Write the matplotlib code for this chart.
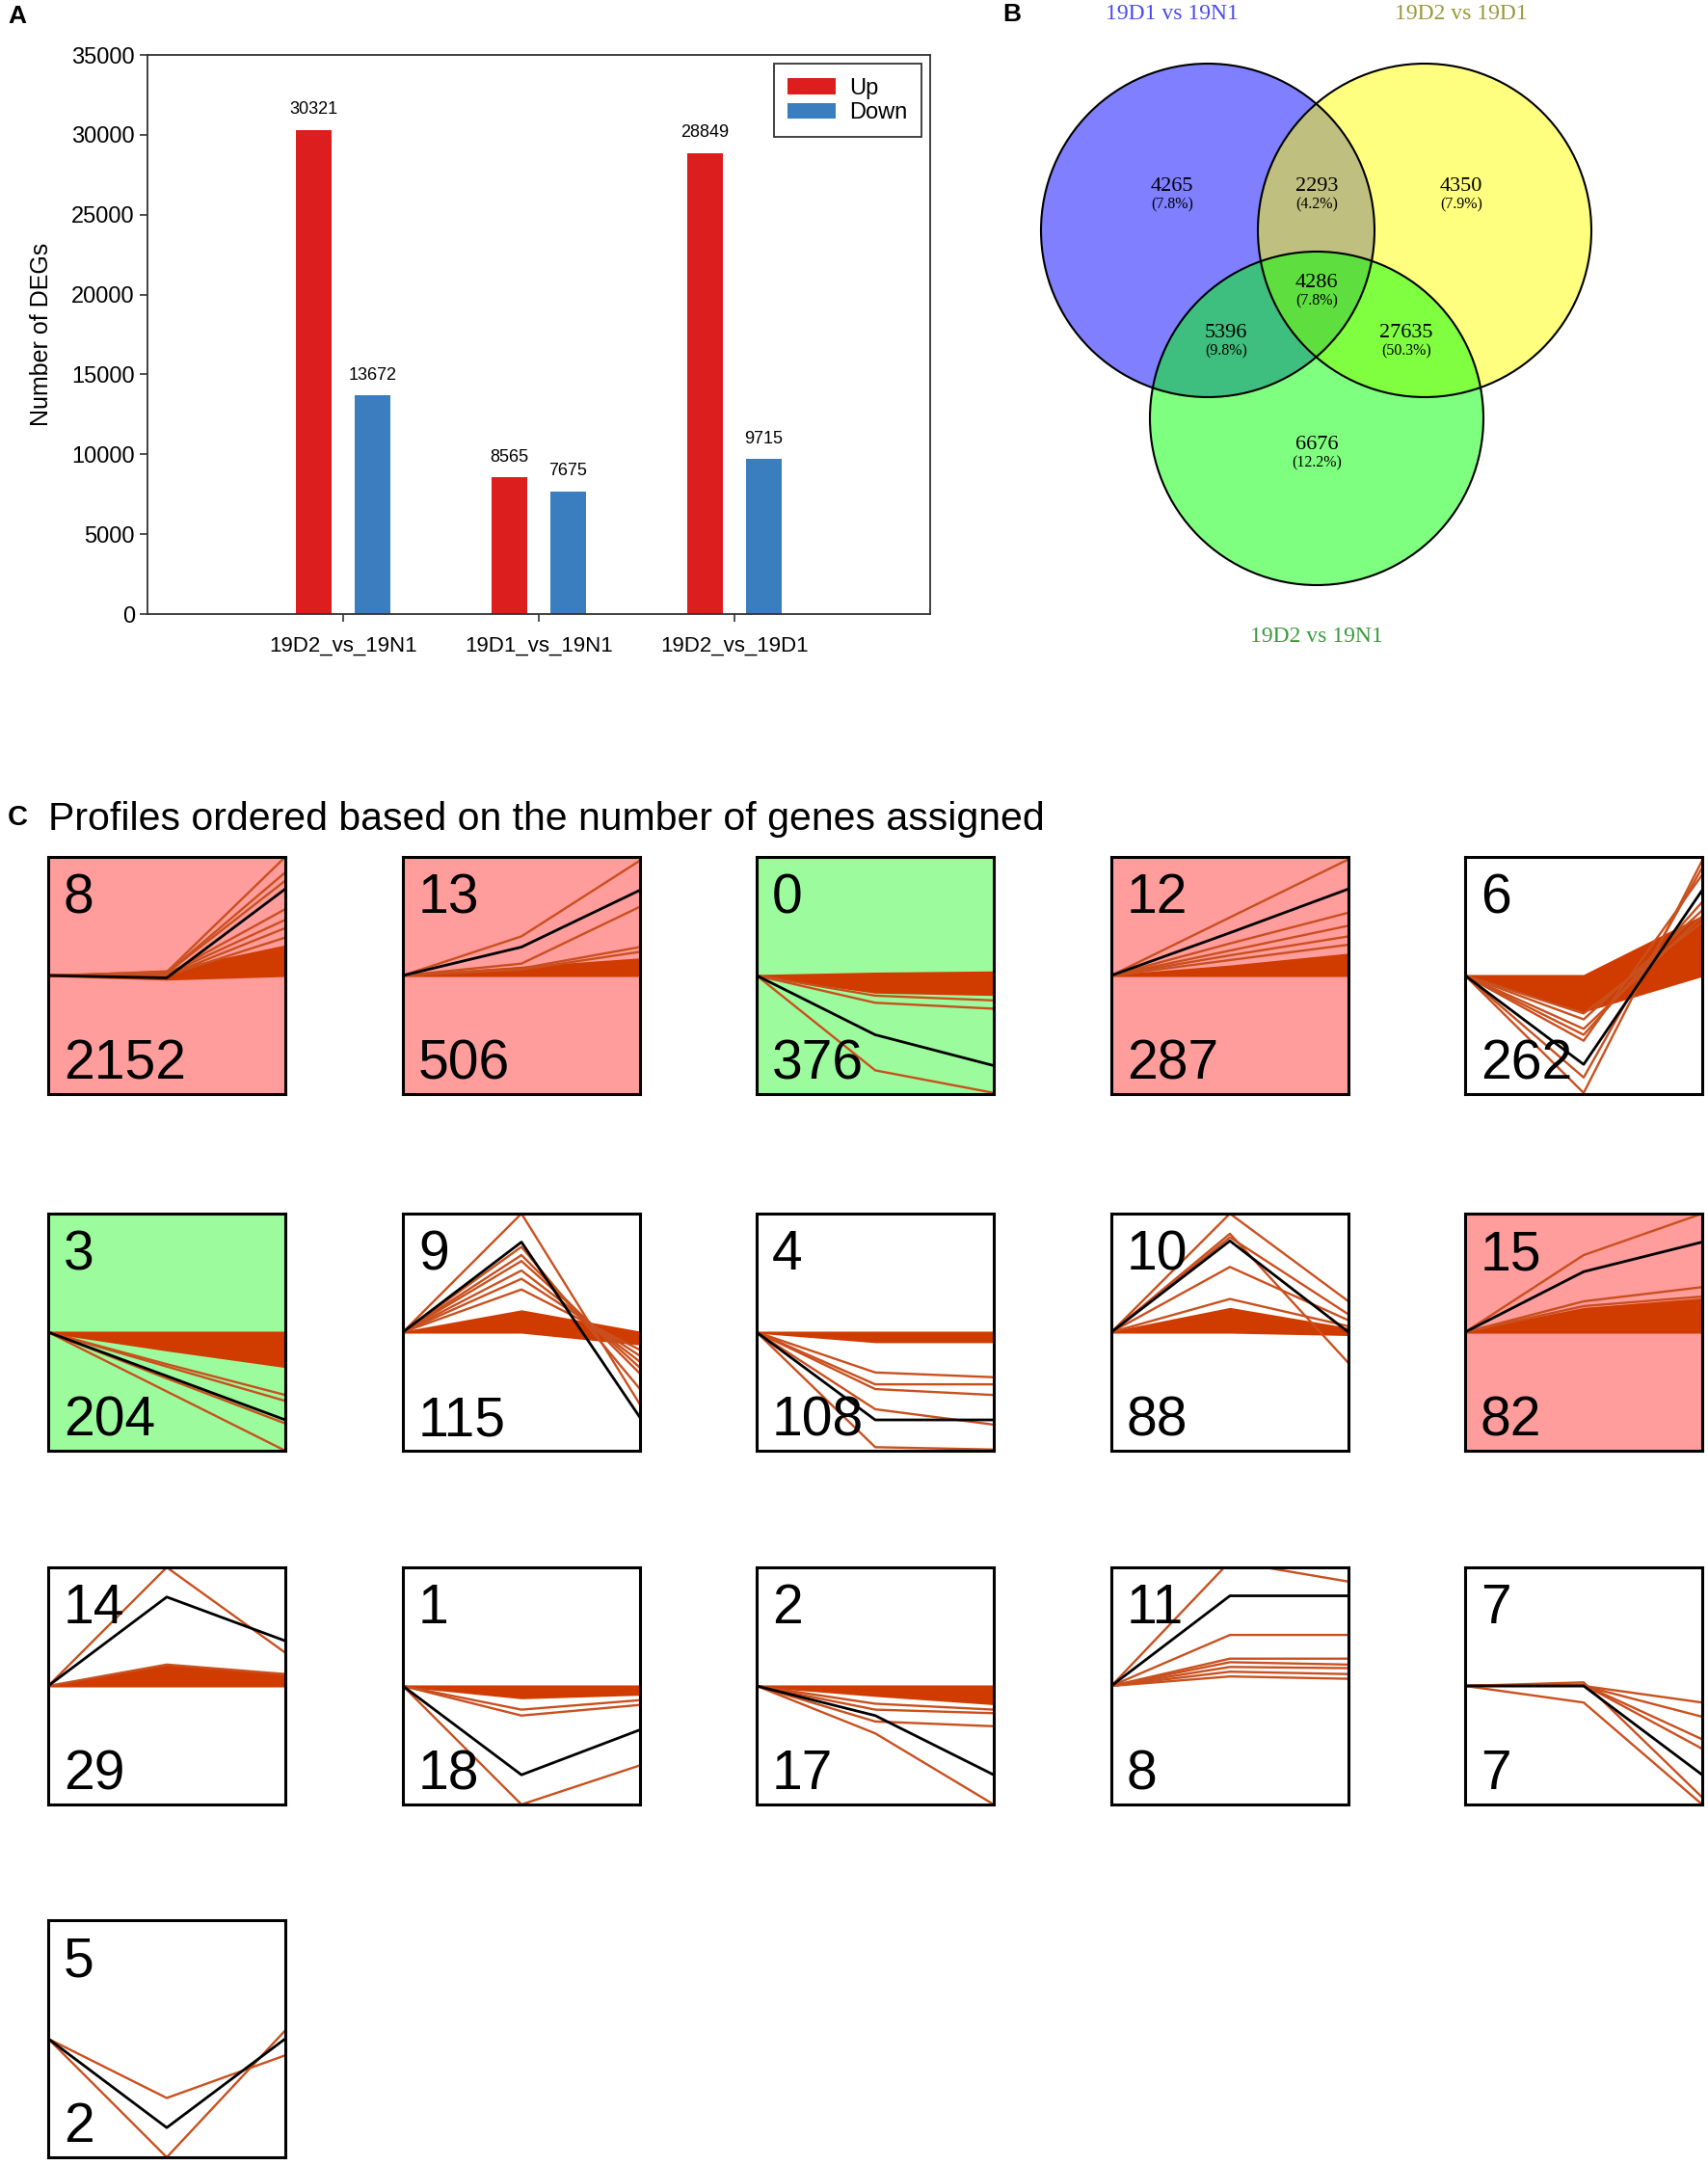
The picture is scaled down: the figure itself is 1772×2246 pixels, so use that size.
import numpy as np
import matplotlib
matplotlib.use('Agg')
import matplotlib.pyplot as plt
from matplotlib.patches import Circle

W, H = 1772, 2246
plt.rcParams['font.family'] = ['Liberation Sans', 'DejaVu Sans']

# ---- panel A data
comparisons = ['19D2_vs_19N1', '19D1_vs_19N1', '19D2_vs_19D1']
up_counts = [30321, 8565, 28849]
down_counts = [13672, 7675, 9715]

# ---- panel B data (venn)
venn_sets = ['19D1 vs 19N1', '19D2 vs 19D1', '19D2 vs 19N1']
venn_regions = ['A', 'B', 'C', 'AB', 'AC', 'BC', 'ABC']
venn_counts = [4265, 4350, 6676, 2293, 5396, 27635, 4286]

# ---- panel C data (STEM profiles), values at t1, t2 (t0 = 0)
profile_ids = [8, 13, 0, 12, 6, 3, 9, 4, 10, 15, 14, 1, 2, 11, 7, 5]
profile_counts = [2152, 506, 376, 287, 262, 204, 115, 108, 88, 82, 29, 18, 17, 8, 7, 2]
profile_shade = ['up', 'up', 'down', 'up', 'none', 'down', 'none', 'none',
                 'none', 'up', 'none', 'none', 'none', 'none', 'none', 'none']
profile_model = [[-0.02, 0.73], [0.24, 0.72], [-0.50, -0.76], [0.36, 0.73],
                 [-0.75, 0.72], [-0.37, -0.74], [0.76, -0.72], [-0.74, -0.74],
                 [0.77, 0.0], [0.51, 0.76], [0.75, 0.38], [-0.75, -0.37],
                 [-0.25, -0.75], [0.76, 0.76], [0.0, -0.75], [-0.75, 0.0]]
profile_genes = [
    [[0.03, 1.0], [0.02, 0.87], [0.02, 0.80], [0.01, 0.56], [0.01, 0.47], [0.0, 0.40], [0.0, 0.32]],
    [[0.33, 0.97], [0.10, 0.58], [0.06, 0.24], [0.05, 0.20]],
    [[-0.80, -0.99], [-0.23, -0.28], [-0.17, -0.21]],
    [[0.49, 0.98], [0.27, 0.53], [0.21, 0.42], [0.17, 0.33], [0.13, 0.26]],
    [[-0.99, 0.97], [-0.86, 0.91], [-0.55, 0.85], [-0.50, 0.62], [-0.45, 0.50], [-0.37, 0.55], [-0.32, 0.45]],
    [[-0.50, -1.0], [-0.27, -0.53], [-0.29, -0.58], [-0.39, -0.77]],
    [[1.0, -0.61], [0.72, -0.48], [0.65, -0.35], [0.60, -0.30], [0.52, -0.25], [0.45, -0.20], [0.36, -0.15]],
    [[-0.97, -0.99], [-0.34, -0.38], [-0.44, -0.44], [-0.48, -0.53], [-0.65, -0.78]],
    [[1.0, 0.26], [0.83, -0.26], [0.80, 0.15], [0.55, 0.10], [0.28, 0.05]],
    [[0.65, 1.0], [0.26, 0.38], [0.22, 0.30]],
    [[1.0, 0.28], [0.18, 0.10]],
    [[-1.0, -0.67], [-0.25, -0.16], [-0.20, -0.12]],
    [[-0.40, -1.0], [-0.30, -0.34], [-0.20, -0.23], [-0.15, -0.20]],
    [[1.05, 0.88], [0.43, 0.43], [0.23, 0.23], [0.20, 0.18], [0.16, 0.15], [0.12, 0.10], [0.08, 0.06]],
    [[-0.14, -1.0], [0.03, -0.94], [0.01, -0.53], [0.01, -0.45], [0.0, -0.26], [0.0, -0.14]],
    [[-1.0, 0.07], [-0.50, -0.14]],
]
# dense bundle of gene lines: lower / upper envelope at t1, t2
profile_band_lo = [[-0.03, 0.0], [0.0, 0.0], [-0.14, -0.16], [0.0, 0.0], [-0.30, 0.0],
                   [-0.15, -0.29], [0.0, -0.10], [-0.08, -0.08], [0.0, -0.02], [0.0, 0.0],
                   [0.0, 0.0], [-0.10, -0.07], [-0.08, -0.15], [0.0, 0.0], [0.0, 0.0], [0.0, 0.0]]
profile_band_hi = [[0.04, 0.25], [0.07, 0.14], [0.02, 0.03], [0.08, 0.18], [0.0, 0.50],
                   [0.0, 0.0], [0.18, 0.0], [0.0, 0.0], [0.20, 0.03], [0.20, 0.28],
                   [0.17, 0.10], [0.0, 0.0], [0.0, 0.0], [0.0, 0.0], [0.0, 0.0], [0.0, 0.0]]

shade_colors = {'up': '#FF9C9C', 'down': '#9CFB9C', 'none': 'white'}
line_col = '#C9501E'
band_col = '#D03C00'

fig = plt.figure(figsize=(W / 100, H / 100), dpi=100)


def px_axes(x0, y0, x1, y1):
    return fig.add_axes([x0 / W, 1 - y1 / H, (x1 - x0) / W, (y1 - y0) / H])


# ================= A: bar chart
ax = px_axes(153, 57, 965, 637)
x = np.arange(len(comparisons))
bw = 0.18
ax.bar(x - 0.15, up_counts, bw, color='#DC1E1E', label='Up')
ax.bar(x + 0.15, down_counts, bw, color='#3A7EC0', label='Down')
for xi, v in zip(x, up_counts):
    ax.annotate(str(v), (xi - 0.15, v), xytext=(0, 9), textcoords='offset points',
                ha='center', va='bottom', fontsize=13)
for xi, v in zip(x, down_counts):
    ax.annotate(str(v), (xi + 0.15, v), xytext=(0, 9), textcoords='offset points',
                ha='center', va='bottom', fontsize=13)
ax.set_xlim(-1, 3)
ax.set_ylim(0, 35000)
ax.set_yticks(range(0, 35001, 5000))
ax.set_xticks(x)
ax.set_xticklabels(comparisons)
ax.tick_params(direction='out', length=6, width=1.2, labelsize=17, color='#333333')
ax.tick_params(axis='x', pad=10, labelsize=16)
for s in ax.spines.values():
    s.set_linewidth(1.3)
    s.set_color('#333333')
ax.set_ylabel('Number of DEGs', fontsize=18, labelpad=14)
leg = ax.legend(loc='upper right', fontsize=17, fancybox=False, edgecolor='black',
                borderaxespad=0.4, handlelength=2.1, handleheight=0.7, labelspacing=0.15,
                borderpad=0.6, handletextpad=0.6)
leg.get_frame().set_linewidth(1.3)
fig.text(8 / W, 1 - 17 / H, 'A', fontsize=19, fontweight='bold', va='center')

# ================= B: venn
axv = px_axes(1000, 0, 1772, 700)
axv.set_xlim(1000, 1772)
axv.set_ylim(700, 0)
axv.axis('off')
r = 173
centers = [(1253, 239), (1478, 239), (1366, 434)]
fills = ['#0000FF', '#FFFF00', '#00FF00']
for c, f in zip(centers, fills):
    axv.add_patch(Circle(c, r, facecolor=f, alpha=0.5, edgecolor='none'))
for c in centers:
    axv.add_patch(Circle(c, r, facecolor='none', edgecolor='black', lw=1.5))

label_pos = {'A': (1216, 194), 'B': (1516, 194), 'C': (1366, 462), 'AB': (1366, 194),
             'AC': (1272, 346), 'BC': (1459, 346), 'ABC': (1366, 294)}
total = sum(venn_counts)
for reg, n in zip(venn_regions, venn_counts):
    px, py = label_pos[reg]
    axv.text(px, py, str(n), ha='center', va='center', fontsize=16,
             family='Liberation Serif')
    axv.text(px, py + 18, '(%.1f%%)' % (100 * n / total), ha='center', va='center',
             fontsize=11.5, family='Liberation Serif')

set_cols = ['#4A4AEE', '#99993A', '#3A9A3A']
set_pos = [(1216, 14), (1516, 14), (1366, 661)]
for name, col, (px, py) in zip(venn_sets, set_cols, set_pos):
    axv.text(px, py, name, ha='center', va='center', fontsize=17, color=col,
             family='Liberation Serif')
fig.text(1040 / W, 1 - 15 / H, 'B', fontsize=19, fontweight='bold', va='center')

# ================= C: profiles
fig.text(8 / W, 1 - 848 / H, 'C', fontsize=21, fontweight='bold', va='center')
fig.text(50 / W, 1 - 850 / H, 'Profiles ordered based on the number of genes assigned',
         fontsize=29.5, va='center')

col_x = [50, 418, 785, 1153, 1520]
row_y = [889, 1259, 1626, 1992]
box = 246
t = [0, 1, 2]
for i, pid in enumerate(profile_ids):
    x0 = col_x[i % 5]
    y0 = row_y[i // 5]
    a = px_axes(x0, y0, x0 + box, y0 + box)
    a.set_facecolor(shade_colors[profile_shade[i]])
    a.set_xlim(0, 2)
    a.set_ylim(-1, 1)
    a.set_xticks([])
    a.set_yticks([])
    for s in a.spines.values():
        s.set_linewidth(2.2)
        s.set_zorder(5)
    lo = [0] + profile_band_lo[i]
    hi = [0] + profile_band_hi[i]
    if lo != hi:
        a.fill_between(t, lo, hi, color=band_col, lw=1.5, edgecolor=band_col)
    for g in profile_genes[i]:
        a.plot(t, [0] + g, color=line_col, lw=1.7)
    a.plot(t, [0] + profile_model[i], color='black', lw=2.0)
    a.text(0.065, 0.825, str(pid), transform=a.transAxes, fontsize=41,
           ha='left', va='center', zorder=6)
    a.text(0.065, 0.125, str(profile_counts[i]), transform=a.transAxes, fontsize=41,
           ha='left', va='center', zorder=6)

fig.savefig('out.png', dpi=100)
